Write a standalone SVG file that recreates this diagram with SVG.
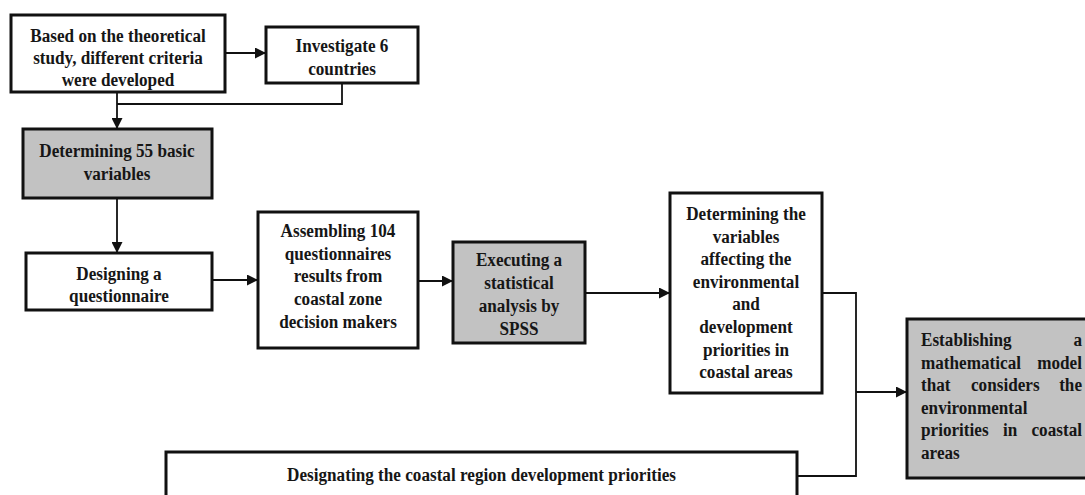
<svg xmlns="http://www.w3.org/2000/svg" width="1085" height="495" viewBox="0 0 1085 495">
<style>
.box{fill:#ffffff;stroke:#111111;stroke-width:3}
.gray{fill:#c2c2c2;stroke:#111111;stroke-width:3}
.t{font-family:"Liberation Serif","Times New Roman",serif;font-weight:bold;font-size:19.5px;fill:#161616}
.c{text-anchor:middle}
.e{text-anchor:end}
.ln{fill:none;stroke:#111111;stroke-width:1.8}
.ar{fill:none;stroke:#111111;stroke-width:1.8;marker-end:url(#arr)}
</style>
<defs>
<marker id="arr" markerUnits="userSpaceOnUse" markerWidth="11" markerHeight="11" refX="10" refY="5.5" orient="auto">
<path d="M0,0 L11,5.5 L0,11 Z" fill="#111111"/>
</marker>
</defs>
<rect width="1085" height="495" fill="#ffffff"/>

<g id="connectors">
<path class="ar" d="M225,53 L265,53"/>
<path class="ln" d="M342,83 L342,104 L117,104"/>
<path class="ar" d="M117,92 L117,128"/>
<path class="ar" d="M117,198 L117,252"/>
<path class="ar" d="M212,280 L257,280"/>
<path class="ar" d="M418,281 L452,281"/>
<path class="ar" d="M585,293 L669,293"/>
<path class="ln" d="M822,293 L856,293 L856,476 L797,476"/>
<path class="ar" d="M856,392 L906,392"/>
</g>

<g id="n1">
<rect class="box" x="11" y="15" width="214" height="77"/>
<text class="t c" transform="translate(118,42) scale(0.88 1)"><tspan x="0" y="0">Based on the theoretical</tspan><tspan x="0" y="22">study, different criteria</tspan><tspan x="0" y="44">were developed</tspan></text>
</g>

<g id="n2">
<rect class="box" x="266" y="27" width="152" height="56"/>
<text class="t c" transform="translate(342,52) scale(0.88 1)"><tspan x="0" y="0">Investigate 6</tspan><tspan x="0" y="23">countries</tspan></text>
</g>

<g id="n3">
<rect class="gray" x="23" y="129" width="189" height="69"/>
<text class="t c" transform="translate(117,157) scale(0.88 1)"><tspan x="0" y="0">Determining 55 basic</tspan><tspan x="0" y="23">variables</tspan></text>
</g>

<g id="n4">
<rect class="box" x="26" y="253" width="186" height="57"/>
<text class="t c" transform="translate(119,280) scale(0.88 1)"><tspan x="0" y="0">Designing a</tspan><tspan x="0" y="22">questionnaire</tspan></text>
</g>

<g id="n5">
<rect class="box" x="258" y="212" width="160" height="136"/>
<text class="t c" transform="translate(338,237) scale(0.88 1)"><tspan x="0" y="0">Assembling 104</tspan><tspan x="0" y="22.7">questionnaires</tspan><tspan x="0" y="45.4">results from</tspan><tspan x="0" y="68.1">coastal zone</tspan><tspan x="0" y="90.8">decision makers</tspan></text>
</g>

<g id="n6">
<rect class="gray" x="453" y="242" width="132" height="101"/>
<text class="t c" transform="translate(519,266) scale(0.88 1)"><tspan x="0" y="0">Executing a</tspan><tspan x="0" y="23">statistical</tspan><tspan x="0" y="46">analysis by</tspan><tspan x="0" y="69">SPSS</tspan></text>
</g>

<g id="n7">
<rect class="box" x="670" y="193" width="152" height="200"/>
<text class="t c" transform="translate(746,220) scale(0.88 1)"><tspan x="0" y="0">Determining the</tspan><tspan x="0" y="22.6">variables</tspan><tspan x="0" y="45.2">affecting the</tspan><tspan x="0" y="67.8">environmental</tspan><tspan x="0" y="90.4">and</tspan><tspan x="0" y="113">development</tspan><tspan x="0" y="135.6">priorities in</tspan><tspan x="0" y="158.2">coastal areas</tspan></text>
</g>

<g id="n8">
<rect class="gray" x="907" y="319" width="190" height="159"/>
<text class="t" transform="translate(921,346) scale(0.88 1)">Establishing</text>
<text class="t e" transform="translate(1082,346) scale(0.88 1)">a</text>
<text class="t" transform="translate(921,368.6) scale(0.88 1)">mathematical</text>
<text class="t e" transform="translate(1082,368.6) scale(0.88 1)">model</text>
<text class="t" transform="translate(921,391.2) scale(0.88 1)">that</text>
<text class="t" transform="translate(971,391.2) scale(0.88 1)">considers</text>
<text class="t e" transform="translate(1082,391.2) scale(0.88 1)">the</text>
<text class="t" transform="translate(921,413.8) scale(0.88 1)">environmental</text>
<text class="t" transform="translate(921,436.4) scale(0.88 1)">priorities</text>
<text class="t" transform="translate(1003,436.4) scale(0.88 1)">in</text>
<text class="t e" transform="translate(1082,436.4) scale(0.88 1)">coastal</text>
<text class="t" transform="translate(921,459) scale(0.88 1)">areas</text>
</g>

<g id="n9">
<rect class="box" x="166" y="452" width="631" height="55"/>
<text class="t c" transform="translate(481.5,481) scale(0.88 1)">Designating the coastal region development priorities</text>
</g>
</svg>
